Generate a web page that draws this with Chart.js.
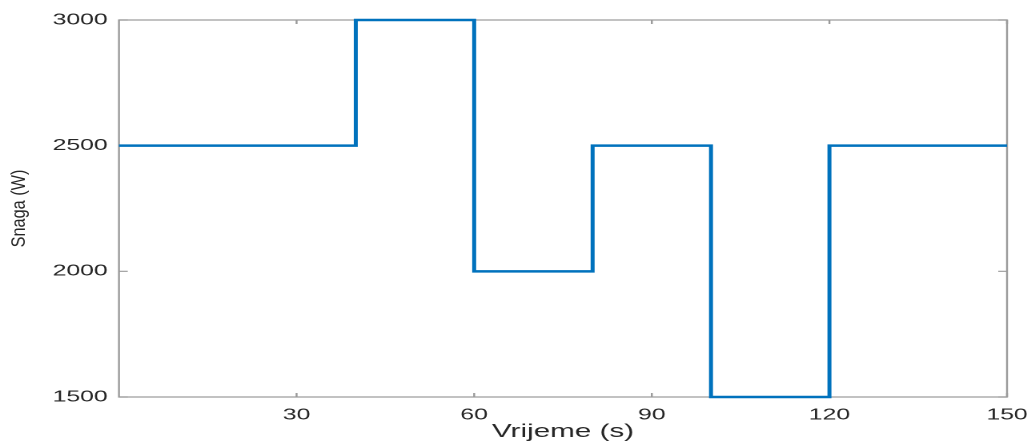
<!DOCTYPE html>
<html>
<head>
<meta charset="utf-8">
<script src="https://cdn.jsdelivr.net/npm/chart.js@4/dist/chart.umd.min.js"></script>
<style>
  html, body { margin: 0; padding: 0; background: #fff; overflow: hidden; }
  #wrap { width: 644px; height: 443px; transform: scaleX(1.601); transform-origin: 0 0; }
</style>
</head>
<body>
<div id="wrap"><canvas id="chart" width="644" height="443"></canvas></div>
<script>
// step changes of the power profile
var stepTimes = [0, 40, 60, 80, 100, 120, 150];
var powerW = [2500, 3000, 2000, 2500, 1500, 2500, 2500];
var xTicks = [30, 60, 90, 120, 150];
var yTicks = [1500, 2000, 2500, 3000];
var xTitle = 'Vrijeme (s)';
var yTitle = 'Snaga (W)';

var textColor = '#262626';
var frameColor = '#9a9a9a';
var family = '"Liberation Sans", Arial, sans-serif';

// matlab-like box with inward ticks
var boxPlugin = {
    id: 'matlabBox',
    beforeDatasetsDraw: function (chart) {
        var ctx = chart.ctx, a = chart.chartArea;
        var xs = chart.scales.x, ys = chart.scales.y;
        ctx.save();
        ctx.strokeStyle = frameColor;
        ctx.lineWidth = 1.2;
        ctx.strokeRect(a.left, a.top, a.right - a.left, a.bottom - a.top);
        ctx.beginPath();
        xTicks.forEach(function (v) {
            var px = xs.getPixelForValue(v);
            ctx.moveTo(px, a.bottom); ctx.lineTo(px, a.bottom - 4);
            ctx.moveTo(px, a.top); ctx.lineTo(px, a.top + 4);
        });
        yTicks.forEach(function (v) {
            var py = ys.getPixelForValue(v);
            ctx.moveTo(a.left, py); ctx.lineTo(a.left + 5.5, py);
            ctx.moveTo(a.right, py); ctx.lineTo(a.right - 5.5, py);
        });
        ctx.stroke();
        ctx.restore();
    },
    afterDraw: function (chart) {
        // y title drawn here so its glyphs are not widened by the stretch
        var ctx = chart.ctx, a = chart.chartArea;
        ctx.save();
        ctx.translate(12, (a.top + a.bottom) / 2);
        ctx.scale(0.75, 1);
        ctx.rotate(-Math.PI / 2);
        ctx.fillStyle = textColor;
        ctx.font = Chart.helpers.toFont({ family: family, size: 16.3 }).string;
        ctx.textAlign = 'center';
        ctx.textBaseline = 'middle';
        ctx.fillText(yTitle, 0, 0);
        ctx.restore();
    }
};

var points = stepTimes.map(function (t, i) { return { x: t, y: powerW[i] }; });
var tickFont = { family: family, size: 15.5 };
var plain = function (v) { return String(v); };

var chart = new Chart(document.getElementById('chart'), {
    type: 'line',
    data: {
        datasets: [{
            data: points,
            borderColor: '#0072BD',
            borderWidth: 2.5,
            pointRadius: 0,
            stepped: 'before',
            fill: false,
            clip: 6
        }]
    },
    options: {
        responsive: false,
        devicePixelRatio: 2,
        animation: false,
        layout: { padding: { top: 20, right: 15, left: 0, bottom: 0 } },
        plugins: { legend: { display: false }, tooltip: { enabled: false } },
        scales: {
            x: {
                type: 'linear',
                min: 0,
                max: 150,
                afterBuildTicks: function (s) { s.ticks = xTicks.map(function (v) { return { value: v }; }); },
                afterFit: function (s) { s.height = 46; s.paddingLeft = 0; s.paddingRight = 0; },
                grid: { display: false, drawTicks: false },
                border: { display: false },
                ticks: { font: tickFont, color: textColor, padding: 9, maxRotation: 0, autoSkip: false, callback: plain },
                title: {
                    display: true, text: xTitle, color: textColor,
                    font: { family: family, size: 18.5 },
                    padding: { top: 0, bottom: 0 }
                }
            },
            y: {
                min: 1500,
                max: 3000,
                afterBuildTicks: function (s) { s.ticks = yTicks.map(function (v) { return { value: v }; }); },
                afterFit: function (s) { s.width = 74.3; s.paddingTop = 0; s.paddingBottom = 0; },
                grid: { display: false, drawTicks: false },
                border: { display: false },
                ticks: { font: tickFont, color: textColor, padding: 7, autoSkip: false, callback: plain }
            }
        }
    },
    plugins: [boxPlugin]
});
</script>
</body>
</html>
